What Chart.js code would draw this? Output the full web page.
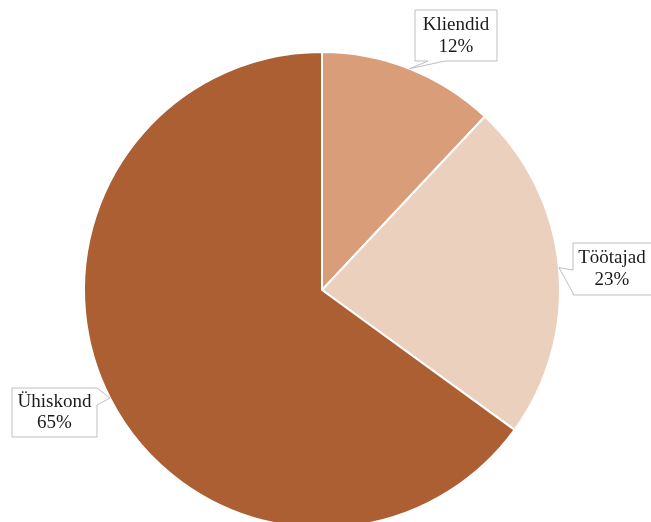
<!DOCTYPE html>
<html>
<head>
<meta charset="utf-8">
<script src="https://cdn.jsdelivr.net/npm/chart.js@4/dist/chart.umd.min.js"></script>
<style>
html,body{margin:0;padding:0;background:#fff;overflow:hidden;}
#wrap{width:651px;height:540px;}
</style>
</head>
<body>
<div id="wrap"><canvas id="c" width="651" height="540"></canvas></div>
<script>
const categories = ["Kliendid", "Töötajad", "Ühiskond"];
const shares = [12, 23, 65];
const valueLabels = ["12%", "23%", "65%"];
const sliceColors = ["#D99D7A", "#EBD0BE", "#AB5F32"];

// callout boxes: [x, y, w, h] and tail side/base
const callouts = [
  {box:[415,10,82,51], side:"bottom", base:[428,445]},
  {box:[573,243,80,52], side:"left", base:[270,293]},
  {box:[12,388,85,49], side:"right", base:[388,405]}
];

const calloutPlugin = {
  id: "callouts",
  afterDraw(chart) {
    const ctx = chart.ctx;
    const meta = chart.getDatasetMeta(0);
    meta.data.forEach((arc, i) => {
      const p = arc.getProps(["x","y","startAngle","endAngle","outerRadius"], true);
      const mid = (p.startAngle + p.endAngle) / 2;
      const tx = p.x + Math.cos(mid) * p.outerRadius;
      const ty = p.y + Math.sin(mid) * p.outerRadius;
      const c = callouts[i];
      const [bx, by, bw, bh] = c.box;
      ctx.save();
      ctx.beginPath();
      ctx.moveTo(bx, by);
      if (c.side === "right") {
        ctx.lineTo(bx + bw, by);
        ctx.lineTo(bx + bw, c.base[0]);
        ctx.lineTo(tx, ty);
        ctx.lineTo(bx + bw, c.base[1]);
        ctx.lineTo(bx + bw, by + bh);
        ctx.lineTo(bx, by + bh);
      } else if (c.side === "left") {
        ctx.lineTo(bx + bw, by);
        ctx.lineTo(bx + bw, by + bh);
        ctx.lineTo(bx, by + bh);
        ctx.lineTo(bx, c.base[1]);
        ctx.lineTo(tx, ty);
        ctx.lineTo(bx, c.base[0]);
      } else {
        ctx.lineTo(bx + bw, by);
        ctx.lineTo(bx + bw, by + bh);
        ctx.lineTo(c.base[1], by + bh);
        ctx.lineTo(tx, ty);
        ctx.lineTo(c.base[0], by + bh);
        ctx.lineTo(bx, by + bh);
      }
      ctx.closePath();
      ctx.fillStyle = "#ffffff";
      ctx.fill();
      ctx.strokeStyle = "#BFBFBF";
      ctx.lineWidth = 1;
      ctx.stroke();
      ctx.fillStyle = "#1a1a1a";
      ctx.font = "19px 'Liberation Serif', 'Times New Roman', serif";
      ctx.textAlign = "center";
      ctx.textBaseline = "middle";
      const cx = (i === 1) ? 612 : bx + bw / 2;
      ctx.fillText(chart.data.labels[i], cx, by + bh * 0.29);
      ctx.fillText(valueLabels[i], cx, by + bh * 0.72);
      ctx.restore();
    });
  }
};

new Chart(document.getElementById("c"), {
  type: "pie",
  data: {
    labels: categories,
    datasets: [{
      data: shares,
      backgroundColor: sliceColors,
      borderColor: "#ffffff",
      borderWidth: 2
    }]
  },
  options: {
    responsive: false,
    animation: false,
    layout: { padding: { left: 83, right: 90, top: 51, bottom: 11 } },
    plugins: { legend: { display: false }, tooltip: { enabled: false } }
  },
  plugins: [calloutPlugin]
});
</script>
</body>
</html>
